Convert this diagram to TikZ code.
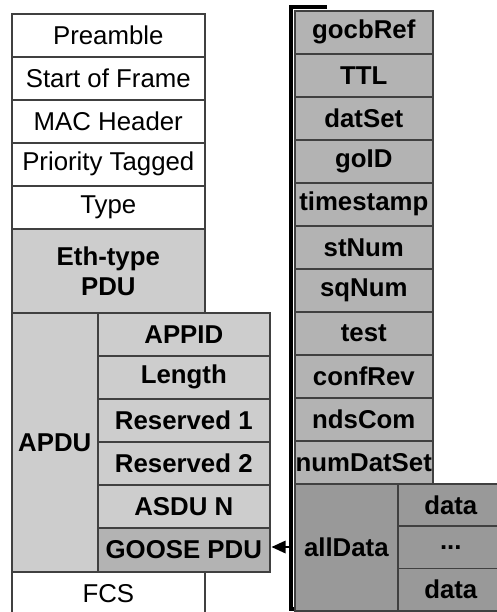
\documentclass[tikz,border=0pt]{standalone}
\usepackage{fontspec}
\setmainfont{Liberation Sans}
\usetikzlibrary{arrows.meta}
\definecolor{edge}{HTML}{404040}
\definecolor{lightfill}{HTML}{CDCDCD}
\definecolor{midfill}{HTML}{B3B3B3}
\definecolor{darkfill}{HTML}{999999}
\begin{document}
\begin{tikzpicture}[x=1pt,y=-1pt,
  cell/.style={draw=edge, line width=1.6pt, inner sep=0pt, align=center,
    anchor=north west, font=\fontsize{25.8}{30}\selectfont},
  plain/.style={cell, fill=white},
  light/.style={cell, fill=lightfill, font=\fontsize{25.8}{30}\selectfont\bfseries},
  mid/.style={cell, fill=midfill, font=\fontsize{25.8}{30}\selectfont\bfseries},
  dark/.style={cell, fill=darkfill, font=\fontsize{25.8}{30}\selectfont\bfseries},
  wide/.style={minimum width=193, minimum height=43},
  sub/.style={minimum width=172, minimum height=43},
  field/.style={mid, minimum width=138, minimum height=43},
  datum/.style={dark, minimum width=106, minimum height=42.33},
  pointer/.style={line width=2pt},
]
\useasboundingbox (0,0) rectangle (496,612);

% Ethernet frame
\node[plain, wide] (pre)  at (11,13)  {Preamble};
\node[plain, wide] (sof)  at (11,56)  {Start of Frame};
\node[plain, wide] (mac)  at (11,99)  {MAC Header};
\node[plain, wide] (prio) at (11,142) {Priority Tagged};
\node[plain, wide] (type) at (11,185) {Type};
\node[light, minimum width=193, minimum height=84] (eth) at (11,228) {Eth-type\\PDU};
\node[light, minimum width=86, minimum height=259] (apdu) at (11,312) {APDU};
\node[light, sub] (appid) at (97,312) {APPID};
\node[light, sub] (len)   at (97,355) {Length};
\node[light, sub] (res1)  at (97,398) {Reserved 1};
\node[light, sub] (res2)  at (97,441) {Reserved 2};
\node[light, sub] (asdu)  at (97,484) {ASDU N};
\node[mid, minimum width=172, minimum height=44] (goose) at (97,527) {GOOSE PDU};
\node[plain, wide] (fcs) at (11,571) {FCS};

% GOOSE PDU contents bracket
\coordinate (bt) at (327,7);
\coordinate (btl) at (291,7);
\coordinate (bbl) at (291,609);
\coordinate (bb) at (327,609);
\draw[line width=4pt, line join=miter] (bt) -- (btl) -- (bbl) -- (bb);

% GOOSE PDU fields
\node[field] (gocb)  at (294,10)  {gocbRef};
\node[field] (ttl)   at (294,53)  {TTL};
\node[field] (dset)  at (294,96)  {datSet};
\node[field] (goid)  at (294,139) {goID};
\node[field] (ts)    at (294,182) {timestamp};
\node[field] (st)    at (294,225) {stNum};
\node[field] (sq)    at (294,268) {sqNum};
\node[field] (test)  at (294,311) {test};
\node[field] (conf)  at (294,354) {confRev};
\node[field] (nds)   at (294,397) {ndsCom};
\node[field] (num)   at (294,440) {numDatSet};
\node[dark, minimum width=103, minimum height=127] (all) at (294,483) {allData};
\node[datum] (d1)   at (397,483)    {data};
\node[datum] (dots) at (397,525.33) {...};
\node[datum] (d2)   at (397,567.67) {data};

% link back to the GOOSE PDU, with a solid triangular head at its end
\coordinate (tap) at (289,547);
\coordinate (tip) at ([xshift=1pt]goose.east |- tap);
\draw[pointer] (tap) -- ([xshift=10pt]tip);
\fill (tip) -- ++(14,-6.5) -- ++(0,13) -- cycle;
\end{tikzpicture}
\end{document}
